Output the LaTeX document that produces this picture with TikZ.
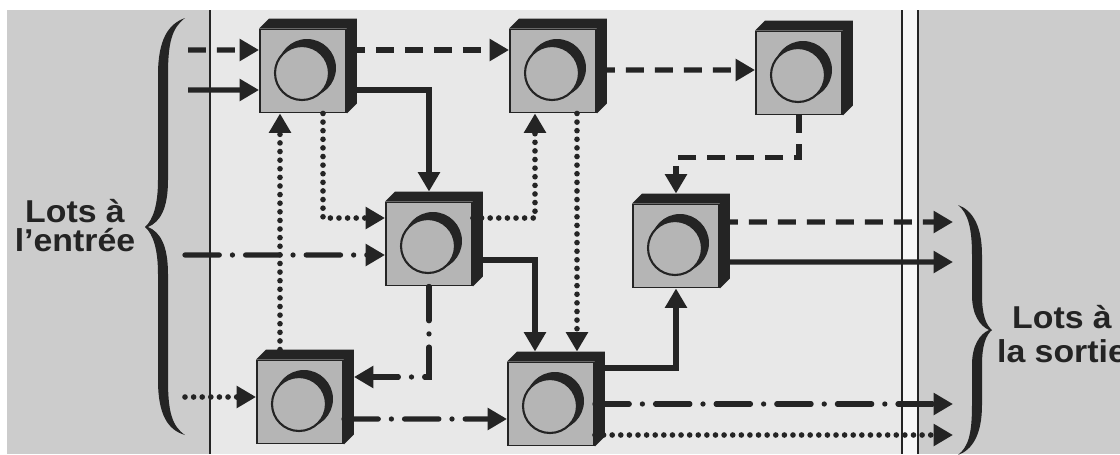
\documentclass[tikz,border=0pt]{standalone}
\usepackage{fontspec}
\newfontfamily\lotsfont[FakeStretch=1.07]{Liberation Sans}
\usetikzlibrary{arrows.meta}
\definecolor{ink}{gray}{0.14}
\definecolor{face}{gray}{0.71}
\definecolor{panel}{gray}{0.80}
\definecolor{floor}{gray}{0.91}
\definecolor{strip}{gray}{0.97}

\begin{document}
\begin{tikzpicture}[
  x=0.02cm, y=-0.02cm, >={Triangle[length=11pt,width=12pt]},
  machine/.style={draw=ink, line width=1.1pt, fill=face, minimum width=1.72cm, minimum height=1.66cm, inner sep=0pt},
  flow/.style={draw=ink, line width=3pt, ->},
  solidflow/.style={flow},
  dashflow/.style={flow, dash pattern=on 10.2pt off 6.3pt},
  dotflow/.style={flow, line width=3.2pt, line cap=round, dash pattern=on 0pt off 4.9pt},
  mixflow/.style={flow, line cap=round, dash pattern=on 19.5pt off 7.5pt on 0pt off 7.5pt},
  lots/.style={font=\lotsfont\bfseries\fontsize{18pt}{16.5pt}\selectfont, align=center, text=ink, inner sep=0pt},
]
\useasboundingbox (0,0) rectangle (1120,454);

% panels
\fill[white] (0,0) rectangle (1120,454);
\fill[panel] (7,10) rectangle (210,454);
\fill[floor] (210,10) rectangle (902,454);
\fill[strip] (902,10) rectangle (918,454);
\fill[panel] (918,10) rectangle (1120,454);
\draw[ink, line width=1pt] (210,10) -- (210,454);
\draw[ink, line width=1.1pt] (902,10) -- (902,454) (918,10) -- (918,454);

% braces
\fill[ink] (185,18) .. controls (168,24) and (158,40) .. (158,75) -- (158,180)
  .. controls (158,205) and (153,220) .. (145,227)
  .. controls (153,234) and (158,249) .. (158,274) -- (158,380)
  .. controls (158,415) and (168,430) .. (185,435)
  .. controls (172,426) and (168,412) .. (168,380) -- (168,274)
  .. controls (168,245) and (160,232) .. (148,227)
  .. controls (160,222) and (168,209) .. (168,180) -- (168,75)
  .. controls (168,42) and (172,28) .. (185,18) -- cycle;
\fill[ink] (958,205) .. controls (972,210) and (982,225) .. (982,255) -- (982,295)
  .. controls (982,315) and (986,325) .. (992,330)
  .. controls (986,335) and (982,345) .. (982,365) -- (982,405)
  .. controls (982,435) and (972,450) .. (958,455)
  .. controls (968,447) and (972,435) .. (972,405) -- (972,365)
  .. controls (972,345) and (980,334) .. (989,330)
  .. controls (980,326) and (972,315) .. (972,295) -- (972,255)
  .. controls (972,228) and (968,213) .. (958,205) -- cycle;

\node[lots] (inlabel) at (75,226) {Lots à\\l’entrée};
\node[lots] (outlabel) at (1062,334) {Lots à\\[2.8pt]la sortie};

% machines
\node[machine] (A) at (303,71) {};
\node[machine] (B) at (553,71) {};
\node[machine] (C) at (799,73) {};
\node[machine] (D) at (429,244) {};
\node[machine] (E) at (676,246) {};
\node[machine] (F) at (300,402) {};
\node[machine] (G) at (551,404) {};
\foreach \n in {A,B,C,D,E,F,G}{
  \fill[ink] (\n.north west) -- ([shift={(10,-10)}]\n.north west) -- ([shift={(10,-10)}]\n.north east)
    -- ([shift={(10,-10)}]\n.south east) -- (\n.south east) -- (\n.north east) -- cycle;
  \fill[ink] ([shift={(4,-3)}]\n.center) circle[radius=0.58cm];
  \filldraw[fill=face, draw=ink, line width=1.2pt] ([shift={(-1,2)}]\n.center) circle[radius=0.54cm];
}

% inputs and outputs
\coordinate (in1) at (188,50);
\coordinate (in2) at (188,90);
\coordinate (in3) at (185,255);
\coordinate (in4) at (185,397);
\coordinate (out1) at (953,222);
\coordinate (out2) at (953,262);
\coordinate (out3) at (953,404);
\coordinate (out4) at (953,435);
\draw[dashflow] (in1) -- ([yshift=0.42cm]A.west);
\draw[solidflow] (in2) -- ([yshift=-0.38cm]A.west);
\draw[mixflow] (in3) -- ([yshift=-0.22cm]D.west);
\draw[dotflow] (in4) -- ([yshift=0.1cm]F.west);

% flows between machines
\draw[dashflow] ([yshift=0.42cm]A.east) -- ([yshift=0.42cm]B.west);
\draw[solidflow] ([yshift=-0.38cm]A.east) -| ([yshift=0.2cm]D.north);
\draw[dotflow] ([xshift=-0.4cm,yshift=0.2cm]F.north) -- ([xshift=-0.46cm]A.south);
\draw[dotflow] ([xshift=0.4cm]A.south) |- ([yshift=0.52cm]D.west);
\draw[dotflow] ([yshift=0.52cm]D.east) -| ([xshift=-0.36cm]B.south);
\draw[solidflow] ([yshift=-0.32cm]D.east) -| ([xshift=-0.32cm,yshift=0.2cm]G.north);
\draw[dotflow] ([xshift=0.48cm]B.south) -- ([xshift=0.52cm,yshift=0.2cm]G.north);
\draw[mixflow] (D.south) |- ([xshift=0.2cm,yshift=0.5cm]F.east);
\draw[mixflow] ([yshift=-0.34cm]F.east) -- ([yshift=-0.3cm]G.west);
\draw[dashflow] ([yshift=0.02cm]B.east) -- ([yshift=0.06cm]C.west);
\draw[dashflow] (C.south) -- ++(0,42) -| ([yshift=0.2cm]E.north);
\draw[solidflow] ([yshift=0.72cm]G.east) -| (E.south);

\draw[dashflow] ([yshift=0.48cm]E.east) -- (out1);
\draw[solidflow] ([yshift=-0.32cm]E.east) -- (out2);
\draw[mixflow] (G.east) -- (out3);
\draw[dotflow] ([yshift=-0.62cm]G.east) -- (out4);
\end{tikzpicture}
\end{document}
